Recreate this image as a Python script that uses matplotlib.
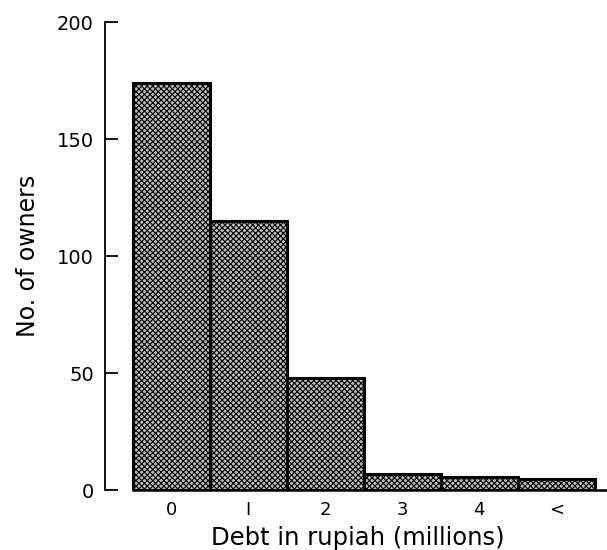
import matplotlib.pyplot as plt
import matplotlib as mpl

# Dados
categorias = ["0", "I", "2", "3", "4", "<"]
donos = [174, 115, 48, 7, 5.5, 4.7]
y_ticks = [0, 50, 100, 150, 200]

mpl.rcParams['hatch.color'] = '#333333'
mpl.rcParams['hatch.linewidth'] = 0.8

fig = plt.figure(figsize=(6.07, 5.5), dpi=100)
ax = fig.add_axes([0.173, 0.109, 0.827, 0.851])

pos = list(range(len(categorias)))
ax.bar(pos, donos, width=1.0, color='#bdbdbd', edgecolor='black',
       linewidth=2.2, hatch='xxxxxx')

ax.set_xlim(-0.86, 5.66)
ax.set_ylim(0, 200)

ax.set_xticks(pos)
ax.set_xticklabels(categorias)
ax.set_yticks(y_ticks)
ax.tick_params(axis='x', length=0, pad=8, labelsize=13)
ax.tick_params(axis='y', direction='in', length=9, width=1.3, pad=8, labelsize=14)

for lado in ['top', 'right']:
    ax.spines[lado].set_visible(False)
ax.spines['left'].set_linewidth(1.3)
ax.spines['bottom'].set_linewidth(1.8)
ax.spines['bottom'].set_bounds(-0.5, 5.66)

ax.set_xlabel("Debt in rupiah (millions)", fontsize=17.5)
ax.xaxis.set_label_coords(0.504, -0.076)
ax.set_ylabel("No. of owners", fontsize=17, labelpad=12)

fig.savefig("out.png", dpi=100)
